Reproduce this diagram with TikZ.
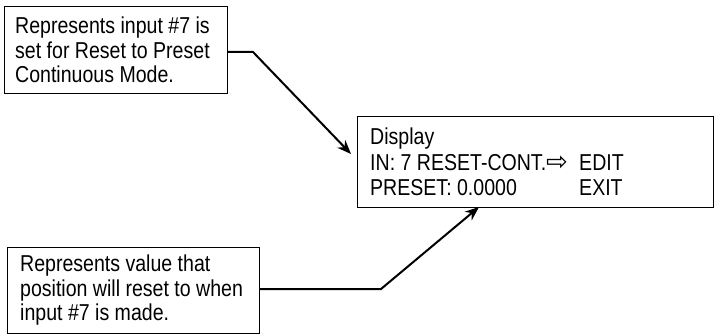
\documentclass[tikz,border=0pt]{standalone}
\usepackage{fontspec}
\setmainfont{Liberation Sans}[FakeStretch=0.85]
\newfontfamily\symfont{DejaVu Sans}
\usetikzlibrary{arrows.meta}
\begin{document}
\begin{tikzpicture}[x=1pt,y=-1pt,
  txt/.style={font=\fontsize{23}{24.5}\selectfont, inner sep=0pt},
  box/.style={draw, line width=1pt, anchor=north west},
  lead/.style={line width=2pt, -{Stealth[length=14pt,width=11pt]}}]
\useasboundingbox (0,0) rectangle (719,336);
\node[box, minimum width=223pt, minimum height=87pt] (n1) at (4,6) {};
\node[txt, align=left, anchor=west] (n1t) at ([xshift=11pt]n1.west)
  {Represents input \#7 is\\set for Reset to Preset\\Continuous Mode.};
\node[box, minimum width=252pt, minimum height=86pt] (n2) at (7,247) {};
\node[txt, align=left, anchor=west] (n2t) at ([xshift=13pt]n2.west)
  {Represents value that\\position will reset to when\\input \#7 is made.};
\node[box, minimum width=356pt, minimum height=91pt] (disp) at (357,116) {};
\node[anchor=base west, txt] (t1) at (370,145) {Display};
\node[anchor=base west, txt] (t2) at (370,171) {IN: 7 RESET-CONT.{\symfont\fontsize{26}{26}\selectfont ⇨}};
\node[anchor=base west, txt] (t3) at (370,196) {PRESET: 0.0000};
\node[anchor=base west, txt] (t4) at (579,171) {EDIT};
\node[anchor=base west, txt] (t5) at (579,196) {EXIT};
\coordinate (a1) at (253,52);
\coordinate (tip1) at (351,154);
\coordinate (a2) at (381,289);
\coordinate (tip2) at (479,207);
\draw[lead] (n1.east |- a1) -- (a1) -- (tip1);
\draw[lead] (n2.east |- a2) -- (a2) -- (tip2);
\end{tikzpicture}
\end{document}
